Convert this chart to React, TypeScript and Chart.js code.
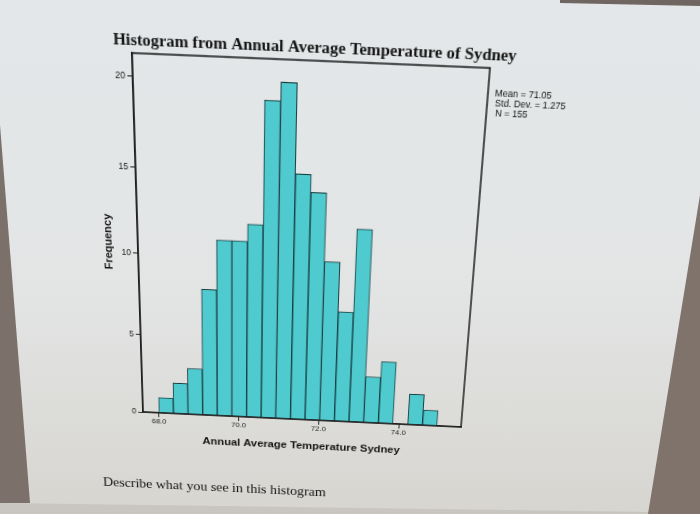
import React, { useEffect, useRef } from 'react';
import { Chart, registerables } from 'chart.js';

Chart.register(...registerables);

// ---- data ----
const binCenters = [68.183, 68.549, 68.915, 69.281, 69.647, 70.013, 70.379, 70.745, 71.111, 71.477, 71.843, 72.209, 72.575, 72.941, 73.307, 73.673, 74.039, 74.405, 74.771];
const frequencies = [1, 2, 3, 8, 11, 11, 12, 19, 20, 15, 14, 10, 7, 12, 3, 4, 0, 2, 1];
const xTickValues = [68, 70, 72, 74];
const yTickValues = [0, 5, 10, 15, 20];
const statLines = ['Mean = 71.05', 'Std. Dev. = 1.275', 'N = 155'];
const chartTitle = 'Histogram from Annual Average Temperature of Sydney';
const xTitle = 'Annual Average Temperature Sydney';
const yTitle = 'Frequency';
const question = 'Describe what you see in this histogram';

// ---- photo perspective (layout only) ----
const FLAT_CORNERS = [[137, 62], [470, 62], [470, 419], [137, 419]];
const PHOTO_CORNERS = [[132, 53], [490, 68], [461, 427], [143, 412]];

function solveHomography(src: number[][], dst: number[][]): number[] {
  const A: number[][] = [];
  const b: number[] = [];
  for (let i = 0; i < 4; i++) {
    const [x, y] = src[i];
    const [u, v] = dst[i];
    A.push([x, y, 1, 0, 0, 0, -u * x, -u * y]);
    b.push(u);
    A.push([0, 0, 0, x, y, 1, -v * x, -v * y]);
    b.push(v);
  }
  const n = 8;
  for (let c = 0; c < n; c++) {
    let p = c;
    for (let r = c + 1; r < n; r++) if (Math.abs(A[r][c]) > Math.abs(A[p][c])) p = r;
    [A[c], A[p]] = [A[p], A[c]];
    [b[c], b[p]] = [b[p], b[c]];
    for (let r = 0; r < n; r++) {
      if (r === c) continue;
      const f = A[r][c] / A[c][c];
      for (let k = c; k < n; k++) A[r][k] -= f * A[c][k];
      b[r] -= f * b[c];
    }
  }
  return b.map((v, i) => v / A[i][i]);
}

const H = solveHomography(FLAT_CORNERS, PHOTO_CORNERS);
const HI = solveHomography(PHOTO_CORNERS, FLAT_CORNERS);
const toFlat = (x: number, y: number) => {
  const w = HI[6] * x + HI[7] * y + 1;
  return [(HI[0] * x + HI[1] * y + HI[2]) / w, (HI[3] * x + HI[4] * y + HI[5]) / w];
};
const MATRIX = `matrix3d(${H[0]},${H[3]},0,${H[6]},${H[1]},${H[4]},0,${H[7]},0,0,1,0,${H[2]},${H[5]},0,1)`;

const TITLE_POS = toFlat(113, 40);
const STATS_POS = [toFlat(495, 94), toFlat(495, 104), toFlat(495, 114)];
const QUESTION_POS = toFlat(103, 481);

const framePlugin = {
  id: 'frameAndNotes',
  afterDraw(chart: any) {
    const { ctx, chartArea: a } = chart;
    ctx.save();
    ctx.strokeStyle = '#1e1e1e';
    ctx.lineWidth = 1.5;
    ctx.strokeRect(a.left, a.top, a.right - a.left, a.bottom - a.top);
    ctx.fillStyle = '#141414';
    ctx.textBaseline = 'middle';
    ctx.textAlign = 'left';
    ctx.font = 'bold 15.4px "Liberation Serif"';
    ctx.fillText(chartTitle, TITLE_POS[0], TITLE_POS[1]);
    ctx.font = '8.6px "Liberation Sans"';
    statLines.forEach((s, i) => ctx.fillText(s, STATS_POS[i][0], STATS_POS[i][1]));
    ctx.restore();
  },
};

export default function App() {
  const ref = useRef<HTMLCanvasElement | null>(null);

  useEffect(() => {
    if (!ref.current) return;
    const chart = new Chart(ref.current, {
      type: 'bar',
      data: {
        datasets: [
          {
            label: yTitle,
            data: binCenters.map((x, i) => ({ x, y: frequencies[i] })),
            backgroundColor: '#4fcbd0',
            borderColor: '#173a3c',
            borderWidth: 1,
            barPercentage: 1,
            categoryPercentage: 1,
          },
        ],
      },
      options: {
        animation: false,
        responsive: false,
        devicePixelRatio: 1,
        layout: { padding: { left: 95, top: 62, right: 230, bottom: 58 } },
        plugins: {
          legend: { display: false },
          tooltip: { enabled: false },
          title: { display: false },
        },
        scales: {
          x: {
            type: 'linear',
            offset: false,
            min: 67.6,
            max: 75.55,
            afterBuildTicks: (s: any) => {
              s.ticks = xTickValues.map((v) => ({ value: v }));
            },
            afterFit: (s: any) => {
              s.height = 37;
            },
            ticks: {
              padding: 0,
              color: '#222',
              font: { family: 'Liberation Sans', size: 8 },
              callback: (v: any) => Number(v).toFixed(1),
              maxRotation: 0,
            },
            grid: { offset: false, drawOnChartArea: false, drawTicks: true, tickLength: 5, color: '#222', tickColor: '#222' },
            border: { display: true, color: '#222', width: 1.5 },
            title: {
              display: true,
              text: xTitle,
              color: '#141414',
              font: { family: 'Liberation Sans', size: 11.8, weight: 'bold' },
              padding: { top: 0, bottom: 0 },
            },
          },
          y: {
            min: 0,
            max: 21.2,
            afterBuildTicks: (s: any) => {
              s.ticks = yTickValues.map((v) => ({ value: v }));
            },
            afterFit: (s: any) => {
              s.width = 42;
            },
            ticks: {
              padding: 2,
              color: '#222',
              font: { family: 'Liberation Sans', size: 8.5 },
            },
            grid: { drawOnChartArea: false, drawTicks: true, tickLength: 5, color: '#222', tickColor: '#222' },
            border: { display: true, color: '#222', width: 1.5 },
            title: {
              display: true,
              text: yTitle,
              color: '#141414',
              font: { family: 'Liberation Sans', size: 11, weight: 'bold' },
              padding: { top: 6, bottom: 0 },
            },
          },
        },
      },
      plugins: [framePlugin],
    } as any);
    return () => chart.destroy();
  }, []);

  return (
    <div
      style={{
        position: 'fixed',
        left: 0,
        top: 0,
        width: 700,
        height: 514,
        overflow: 'hidden',
        background: 'linear-gradient(to bottom, #e3e7e9 0%, #e3e5e5 55%, #d7d5d0 100%)',
      }}
    >
      <div style={{ position: 'absolute', inset: 0, background: '#7b706a', clipPath: 'polygon(0px 125px, 30px 503px, 0px 503px)' }} />
      <div style={{ position: 'absolute', inset: 0, background: '#c9c5c0', clipPath: 'polygon(0px 503px, 650px 512px, 650px 514px, 0px 514px)' }} />
      <div style={{ position: 'absolute', inset: 0, background: '#7f736b', clipPath: 'polygon(700px 195px, 700px 514px, 648px 514px)' }} />
      <div style={{ position: 'absolute', inset: 0, background: '#6f6661', clipPath: 'polygon(560px 0px, 700px 0px, 700px 6px, 560px 3px)' }} />
      <div
        style={{
          position: 'absolute',
          left: 0,
          top: 0,
          width: 700,
          height: 514,
          transformOrigin: '0 0',
          transform: MATRIX,
        }}
      >
        <canvas ref={ref} width={700} height={514} style={{ position: 'absolute', left: 0, top: 0 }} />
        <div
          style={{
            position: 'absolute',
            left: QUESTION_POS[0],
            top: QUESTION_POS[1] - 8,
            lineHeight: '16px',
            fontFamily: '"Liberation Serif", serif',
            fontSize: 15,
            color: '#141414',
            whiteSpace: 'nowrap',
          }}
        >
          {question}
        </div>
      </div>
    </div>
  );
}
